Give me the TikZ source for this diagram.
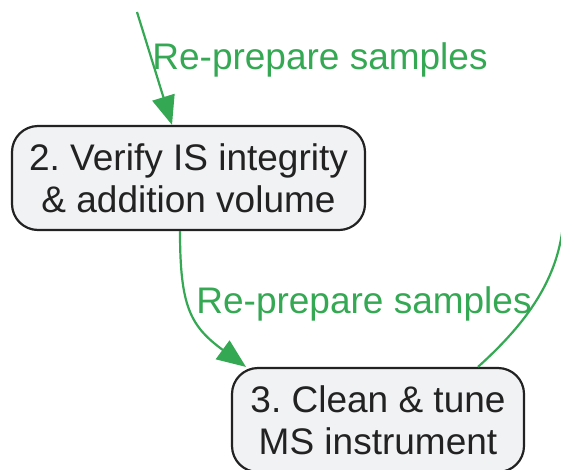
\documentclass[tikz,border=0pt]{standalone}
\usepackage{fontspec}
\setmainfont{Liberation Sans}
\usetikzlibrary{arrows.meta}
\definecolor{edgegreen}{HTML}{34A853}
\definecolor{boxfill}{HTML}{F1F2F4}
\definecolor{boxline}{HTML}{222222}
\frenchspacing
\begin{document}
\begin{tikzpicture}[x=1pt,y=-1pt,
  stepbox/.style={draw=boxline, line width=2.2pt, fill=boxfill, rounded corners=26pt,
    minimum height=104pt, align=center, inner sep=0pt,
    font=\fontsize{37}{42}\selectfont, text=boxline},
  flow/.style={draw=edgegreen, line width=2.2pt, -{Triangle[length=29pt,width=23pt]}},
  flowplain/.style={draw=edgegreen, line width=2.2pt},
  lbl/.style={text=edgegreen, font=\fontsize{37}{42}\selectfont, inner sep=0pt, anchor=base}]
\useasboundingbox (0,0) rectangle (561,469);
\node[stepbox, minimum width=353pt] (n2) at (188.5,178) {2. Verify IS integrity\\\& addition volume};
\node[stepbox, minimum width=292pt] (n3) at (378,420) {3. Clean \& tune\\MS instrument};
\coordinate (topin) at (137,12);
\coordinate (loopout) at (563,225);
\draw[flow] (topin) -- ([xshift=-16.5pt]n2.north);
\draw[flow] ([xshift=-8.5pt]n2.south) .. controls +(0,75) and +(-56,-41) .. ([xshift=-132pt]n3.north);
\draw[flowplain] ([xshift=100pt]n3.north) .. controls +(42,-38) and +(-6,60) .. (loopout);
\node[lbl] (l1) at (320,69) {Re-prepare samples};
\node[lbl] (l2) at (364,313) {Re-prepare samples};
\end{tikzpicture}
\end{document}
